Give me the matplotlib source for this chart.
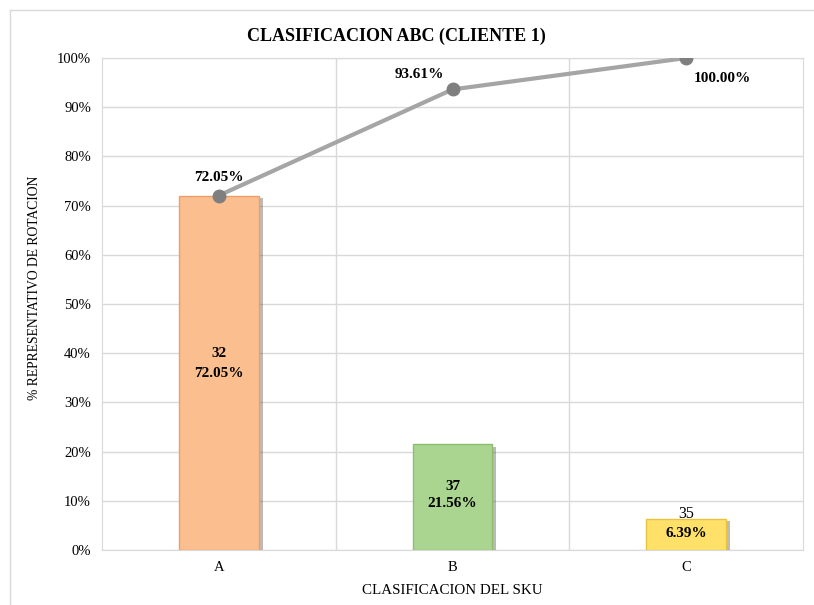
"""Clasificacion ABC chart."""
import matplotlib
matplotlib.use("Agg")
import matplotlib.pyplot as plt
import matplotlib.patheffects as pe
from matplotlib.lines import Line2D
from matplotlib.ticker import PercentFormatter

categories = ["A", "B", "C"]
sku_counts = [32, 37, 35]
percents = [72.05, 21.56, 6.39]
cumulative = [72.05, 93.61, 100.00]

plt.rcParams["font.family"] = ["Liberation Serif", "DejaVu Serif"]

fig = plt.figure(figsize=(8.14, 6.05), dpi=100)
ax = fig.add_axes([102 / 814, 55 / 605, 701 / 814, 492 / 605])

# chart frame (left and top edges only visible)
fig.add_artist(Line2D([10 / 814, 10 / 814], [0, 1 - 10 / 605],
                      transform=fig.transFigure, color="#D9D9D9", lw=1))
fig.add_artist(Line2D([10 / 814, 1], [1 - 10 / 605, 1 - 10 / 605],
                      transform=fig.transFigure, color="#D9D9D9", lw=1))

x = list(range(len(categories)))
fills = ["#FBBE8E", "#AAD590", "#FFE169"]
edges = ["#E9A06C", "#8DBE70", "#E6C440"]

bars = ax.bar(x, percents, width=0.34, color=fills, edgecolor=edges,
              linewidth=1, zorder=3)
for b in bars:
    b.set_path_effects([pe.SimplePatchShadow(offset=(3, -2), alpha=0.35),
                        pe.Normal()])

ax.plot(x, cumulative, color="#A5A5A5", lw=3, marker="o", markersize=9,
        markerfacecolor="#7F7F7F", markeredgecolor="#7F7F7F", zorder=4,
        solid_capstyle="round")

# bar labels (count over percent)
bold = dict(fontsize=11, fontweight="bold", ha="center", va="center", zorder=5)
ax.text(x[0], 40.0, f"{sku_counts[0]}", **bold)
ax.text(x[0], 35.8, f"{percents[0]:.2f}%", **bold)
ax.text(x[1], 13.0, f"{sku_counts[1]}", **bold)
ax.text(x[1], 9.4, f"{percents[1]:.2f}%", **bold)
ax.text(x[2], 7.4, f"{sku_counts[2]}", fontsize=11.5, ha="center",
        va="center", zorder=5)
ax.text(x[2], 3.4, f"{percents[2]:.2f}%", **bold)

# line labels
ax.text(x[0], 75.7, f"{cumulative[0]:.2f}%", **bold)
ax.text(x[1] - 0.144, 96.7, f"{cumulative[1]:.2f}%", **bold)
ax.text(x[2] + 0.155, 95.9, f"{cumulative[2]:.2f}%", **bold)

ax.set_xlim(-0.5, 2.5)
ax.set_ylim(0, 100)
ax.set_yticks(range(0, 101, 10))
ax.yaxis.set_major_formatter(PercentFormatter(decimals=0))
ax.set_xticks(x)
ax.set_xticklabels(categories)
ax.set_xticks([0.5, 1.5], minor=True)
ax.tick_params(axis="both", length=0, labelsize=10.5, pad=8)
ax.tick_params(axis="x", which="minor", length=0)
ax.grid(axis="y", color="#D9D9D9", lw=1, zorder=0)
ax.grid(axis="x", which="minor", color="#D9D9D9", lw=1, zorder=0)
for s in ax.spines.values():
    s.set_color("#D9D9D9")

ax.set_xlabel("CLASIFICACION DEL SKU", fontsize=10.8, labelpad=7)
ax.set_ylabel("% REPRESENTATIVO DE ROTACION", fontsize=9.8)
ax.yaxis.set_label_coords(-0.087, 0.532)

fig.text(396 / 814, 1 - 36 / 605, "CLASIFICACION ABC (CLIENTE 1)",
         fontsize=13, fontweight="bold", ha="center", va="center")

fig.savefig("out.png", dpi=100)
